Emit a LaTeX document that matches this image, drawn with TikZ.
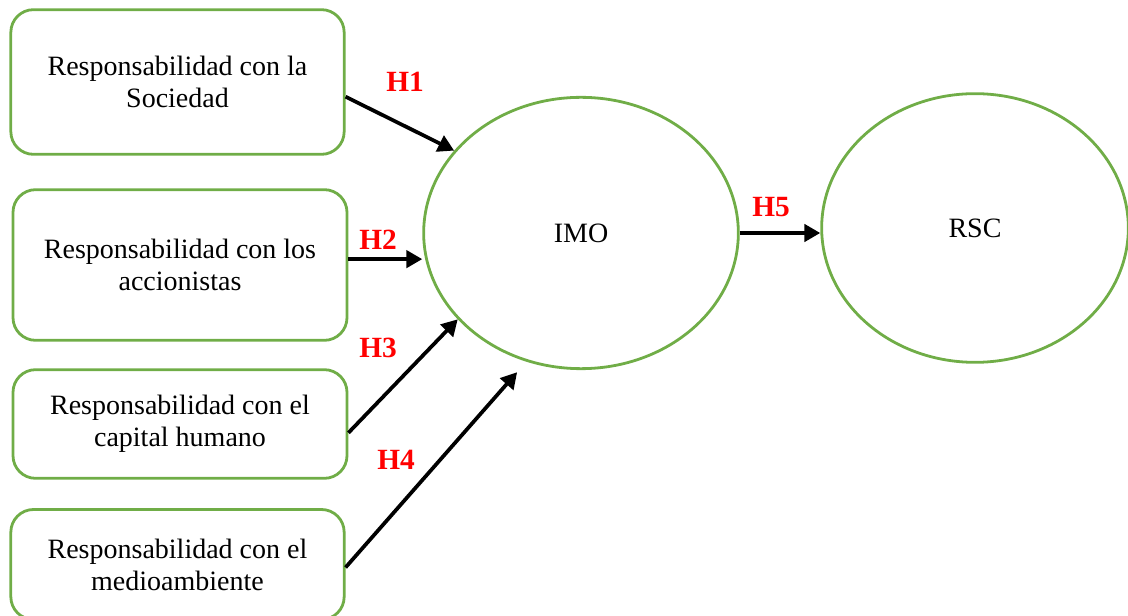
\documentclass[tikz,border=0pt]{standalone}
\usepackage{fontspec}
\setmainfont{Liberation Serif}
\usepackage{tikz}
\usetikzlibrary{shapes.geometric}
\usetikzlibrary{arrows.meta}
\definecolor{boxgreen}{RGB}{112,173,71}
\tikzset{every picture/.style={line width=0.75pt}}
\tikzset{
  respbox/.style={draw=boxgreen, line width=2.1pt, rounded corners=17pt, align=center,
    font=\fontsize{21}{24}\selectfont, inner sep=0pt},
  construct/.style={draw=boxgreen, line width=2.1pt, ellipse, inner sep=0pt,
    font=\fontsize{21}{24}\selectfont},
  hyp/.style={text=red, font=\fontsize{22}{24}\selectfont\bfseries, inner sep=0pt},
  link/.style={line width=2.8pt, -{Triangle[length=12pt,width=13pt]}}
}

\begin{document}
\begin{tikzpicture}[x=0.75pt,y=0.75pt,yscale=-1,xscale=1]
      \useasboundingbox (0,0) rectangle (1128,616);
      % left boxes
      \node (soc) [respbox, minimum width=250pt, minimum height=108.5pt] at (177.5,82)
            {Responsabilidad con la\\Sociedad};
      \node (acc) [respbox, minimum width=250.5pt, minimum height=113pt] at (180,265)
            {Responsabilidad con los\\accionistas};
      \node (cap) [respbox, minimum width=250.5pt, minimum height=81.5pt] at (180,424)
            {Responsabilidad con el\\capital humano};
      \node (med) [respbox, minimum width=250pt, minimum height=82.5pt] at (177.5,564.5)
            {Responsabilidad con el\\medioambiente};
      % constructs
      \node (imo) [construct, minimum width=236pt, minimum height=203.5pt] at (581,233) {IMO};
      \node (rsc) [construct, minimum width=230pt, minimum height=201.5pt] at (975,228) {RSC};
      % hypotheses
      \draw [link] (soc.-5.8) -- (imo.147);
      \draw [link] (acc.2.4) -- (acc.2.4 -| imo.west);
      \draw [link] (cap.-3) -- (imo.215);
      \draw [link, shorten >=10.5pt] (med.-1.5) -- (imo.247.7);
      \draw [link] (imo.east) -- (imo.east -| rsc.west);
      \node (h1) [hyp] at (405,82) {H1};
      \node (h2) [hyp] at (378,240) {H2};
      \node (h3) [hyp] at (378,348) {H3};
      \node (h4) [hyp] at (396,460) {H4};
      \node (h5) [hyp] at (771,207) {H5};
\end{tikzpicture}
\end{document}
